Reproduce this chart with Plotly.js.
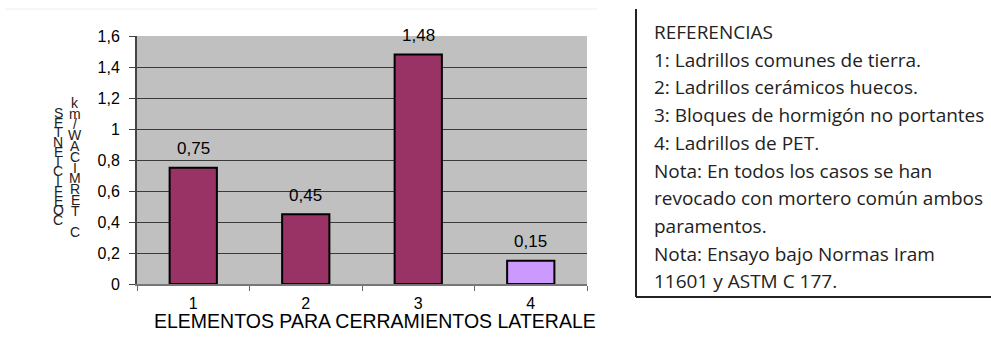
<!DOCTYPE html>
<html>
<head>
<meta charset="utf-8">
<script src="https://cdn.plot.ly/plotly-3.0.1.min.js"></script>
<style>html,body{margin:0;padding:0;background:#fff;}#chart{width:991px;height:348px;}</style>
</head>
<body>
<div id="chart"></div>
<script>
// ---- data ----
var categories = ['1', '2', '3', '4'];
var values = [0.75, 0.45, 1.48, 0.15];
var barColors = ['#993366', '#993366', '#993366', '#cc99ff'];
var yTickVals = [0, 0.2, 0.4, 0.6, 0.8, 1, 1.2, 1.4, 1.6];
var xTitle = 'ELEMENTOS PARA CERRAMIENTOS LATERALE';
var yTitleCol1 = ['S','E','T','N','E','I','C','I','F','E','O','C'];
var yTitleCol2 = ['k','m','/','W','A','C','I','M','R','E','T',' ','C'];
var notesLines = [
  'REFERENCIAS',
  '1: Ladrillos comunes de tierra.',
  '2: Ladrillos cerámicos huecos.',
  '3: Bloques de hormigón no portantes',
  '4: Ladrillos de PET.',
  'Nota: En todos los casos se han',
  'revocado con mortero común ambos',
  'paramentos.',
  'Nota: Ensayo bajo Normas Iram',
  '11601 y ASTM C 177.'
];

// ---- layout geometry (pixels) ----
var L = 137, T = 36, W = 450, H = 248;
function px(x) { return (x - L) / W; }
function py(y) { return (T + H - y) / H; }
function fmt(v) { return String(v).replace('.', ','); }

var chartFont = 'Liberation Sans, Arial, sans-serif';

var trace = {
  type: 'bar',
  x: categories,
  y: values,
  marker: { color: barColors, line: { color: '#000', width: 2 } },
  hoverinfo: 'skip'
};

var annotations = [];
// data labels (category index positions on the category axis)
for (var i = 0; i < categories.length; i++) {
  annotations.push({
    x: i, y: values[i], xref: 'x', yref: 'y',
    text: fmt(values[i]), showarrow: false, yshift: 19,
    font: { family: chartFont, size: 17, color: '#000' }
  });
}
// x axis title
annotations.push({
  x: px(152), y: py(321), xref: 'paper', yref: 'paper', xanchor: 'left', yanchor: 'middle',
  text: xTitle, showarrow: false,
  font: { family: chartFont, size: 19.5, color: '#000' }
});
// stacked y title letters
function stack(letters, x, y0, y1) {
  var n = letters.length;
  for (var k = 0; k < n; k++) {
    if (letters[k] === ' ') continue;
    var y = y0 + (y1 - y0) * k / (n - 1);
    annotations.push({
      x: px(x), y: py(y), xref: 'paper', yref: 'paper', xanchor: 'center', yanchor: 'middle',
      text: letters[k], showarrow: false,
      font: { family: chartFont, size: 14, color: '#222' }
    });
  }
}
stack(yTitleCol1, 58, 113, 220);
stack(yTitleCol2, 75, 103, 232);
// notes box text
for (var j = 0; j < notesLines.length; j++) {
  annotations.push({
    x: px(652), y: py(32 + j * 27.7), xref: 'paper', yref: 'paper', xanchor: 'left', yanchor: 'middle',
    text: notesLines[j], showarrow: false,
    font: { family: 'Open Sans, sans-serif', size: 19, color: '#222' }
  });
}

var shapes = [
  { type: 'line', xref: 'paper', yref: 'paper', x0: px(636), x1: px(636), y0: py(9), y1: py(297), line: { color: '#222', width: 2 } },
  { type: 'line', xref: 'paper', yref: 'paper', x0: px(636), x1: px(995), y0: py(297), y1: py(297), line: { color: '#222', width: 2 } },
  { type: 'line', xref: 'paper', yref: 'paper', x0: px(5), x1: px(597), y0: py(9), y1: py(9), line: { color: '#eeeeee', width: 1 } }
];

var layout = {
  width: 991, height: 348,
  margin: { l: L, r: 991 - L - W, t: T, b: 348 - T - H, pad: 0 },
  paper_bgcolor: '#ffffff',
  plot_bgcolor: '#c0c0c0',
  separators: ',.',
  showlegend: false,
  bargap: 0.58,
  font: { family: chartFont, color: '#000' },
  xaxis: {
    type: 'category',
    range: [-0.5, 3.5],
    tickson: 'boundaries',
    ticks: 'outside', ticklen: 5, tickcolor: '#666', tickwidth: 1,
    showline: true, linecolor: '#777', linewidth: 2,
    showgrid: false,
    ticklabelstandoff: 4,
    tickfont: { family: chartFont, size: 16, color: '#000' }
  },
  yaxis: {
    range: [0, 1.6],
    tickvals: yTickVals,
    ticks: 'outside', ticklen: 6, tickcolor: '#444', tickwidth: 1,
    showline: true, linecolor: '#444', linewidth: 2,
    showgrid: true, gridcolor: '#3a3a3a', gridwidth: 1,
    zeroline: false,
    ticklabelstandoff: 6,
    tickfont: { family: chartFont, size: 16, color: '#000' }
  },
  annotations: annotations,
  shapes: shapes
};

Plotly.newPlot('chart', [trace], layout, { displayModeBar: false, staticPlot: true });
</script>
</body>
</html>
